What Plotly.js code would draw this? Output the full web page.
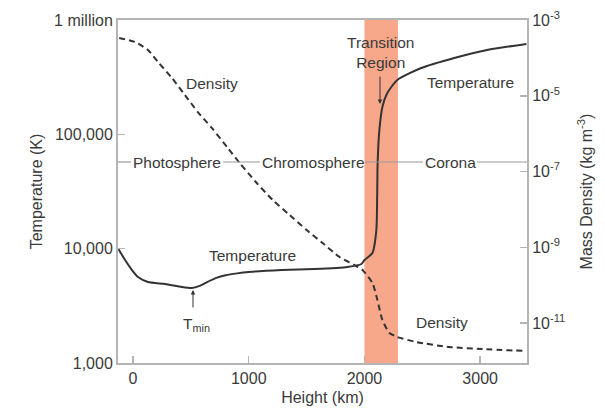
<!DOCTYPE html>
<html>
<head>
<meta charset="utf-8">
<script src="https://cdn.plot.ly/plotly-3.0.1.min.js"></script>
<style>html,body{margin:0;padding:0;background:#fff;}#chart{width:605px;height:412px;}</style>
</head>
<body>
<div id="chart"></div>
<script>
// Temperature profile (K) vs height (km)
const heightT = [-125, -69, -9, 43, 129, 276, 422, 509, 570, 640, 720, 800, 900, 1000, 1284, 1569, 1853, 1974, 2000, 2069, 2103, 2110, 2114, 2129, 2155, 2198, 2284, 2491, 2776, 3060, 3400];
const tempK = [9900, 7960, 6500, 5650, 5110, 4910, 4620, 4530, 4700, 5100, 5550, 5850, 6080, 6250, 6500, 6640, 6920, 7340, 7960, 9160, 14600, 28300, 56100, 109000, 173000, 230000, 299000, 380000, 465000, 547000, 617000];

// Mass density (kg m^-3) vs height (km)
const heightD = [-120, 17, 129, 216, 336, 448, 560, 681, 819, 922, 1069, 1207, 1353, 1500, 1638, 1784, 1914, 1983, 2069, 2112, 2155, 2216, 2284, 2448, 2733, 3017, 3400];
const densityKg = [3.35e-4, 2.62e-4, 1.61e-4, 7.78e-5, 2.94e-5, 1.05e-5, 3.72e-6, 1.41e-6, 4.17e-7, 1.67e-7, 4.97e-8, 1.77e-8, 7.10e-9, 2.85e-9, 1.29e-9, 5.53e-10, 3.40e-10, 2.51e-10, 1.14e-10, 4.05e-11, 1.20e-11, 5.45e-12, 4.27e-12, 3.15e-12, 2.32e-12, 2.06e-12, 1.82e-12];

// Transition region band (km)
const transitionBand = [2000, 2290];

// Tick labels
const xTicks = [0, 1000, 2000, 3000];
const tempTicks = [1000, 10000, 100000, 1000000];
const tempTickText = ['1,000', '10,000', '100,000', '1 million'];
const densTicks = [1e-11, 1e-9, 1e-7, 1e-5, 1e-3];
const densTickText = ['10<sup>-11</sup>', '10<sup>-9</sup>', '10<sup>-7</sup>', '10<sup>-5</sup>', '10<sup>-3</sup>'];

const FONT = 'Liberation Sans, Arial, Helvetica, sans-serif';
const TXT = '#3a3a3a';
const AX = '#b4b4b4';
const LS = 15.5;
const TS = 16;

const traces = [
  {x: heightT, y: tempK, type: 'scatter', mode: 'lines', yaxis: 'y',
   line: {color: '#333', width: 2, shape: 'spline', smoothing: 0.6}, hoverinfo: 'skip'},
  {x: heightD, y: densityKg, type: 'scatter', mode: 'lines', yaxis: 'y2',
   line: {color: '#333', width: 2, dash: '6px,4px', shape: 'spline', smoothing: 0.6}, hoverinfo: 'skip'}
];

const segY = 0.586;
const segs = [[0, 0.032], [0.257, 0.347], [0.604, 0.746], [0.878, 1]];
const shapes = [
  {type: 'rect', xref: 'x', yref: 'paper', x0: transitionBand[0], x1: transitionBand[1], y0: 0, y1: 1,
   fillcolor: '#F7A88B', line: {width: 0}, layer: 'below'}
];
segs.forEach(s => shapes.push({type: 'line', xref: 'paper', yref: 'paper', x0: s[0], x1: s[1], y0: segY, y1: segY,
  line: {color: '#9a9a9a', width: 1.2}}));

function lab(text, x, y, extra) {
  return Object.assign({text: text, xref: 'paper', yref: 'paper', x: x, y: y, showarrow: false,
    xanchor: 'center', yanchor: 'middle', font: {family: FONT, size: LS, color: TXT}}, extra || {});
}
const annotations = [
  lab('Density', 0.230, 0.816),
  lab('Temperature', 0.328, 0.312),
  lab('T<sub>min</sub>', 0.191, 0.113),
  lab('Transition<br>Region', 0.643, 0.905),
  lab('Temperature', 0.861, 0.819),
  lab('Photosphere', 0.144, segY),
  lab('Chromosphere', 0.477, segY),
  lab('Corona', 0.812, segY),
  lab('Density', 0.792, 0.117),
  {text: '', xref: 'paper', yref: 'paper', x: 0.1834, y: 0.213, ax: 0, ay: 19, showarrow: true,
   arrowhead: 2, arrowsize: 0.9, arrowwidth: 1, arrowcolor: '#333'},
  {text: '', xref: 'paper', yref: 'paper', x: 0.6406, y: 0.755, ax: 0, ay: -29, showarrow: true,
   arrowhead: 2, arrowsize: 0.9, arrowwidth: 1, arrowcolor: '#333'}
];

const layout = {
  width: 605, height: 412,
  margin: {l: 118, r: 78, t: 20, b: 49, pad: 0},
  paper_bgcolor: '#fff', plot_bgcolor: '#fff',
  showlegend: false,
  font: {family: FONT, size: TS, color: TXT},
  xaxis: {range: [-130, 3405], tickvals: xTicks, ticktext: xTicks.map(String),
    showline: true, mirror: true, linecolor: AX, linewidth: 2,
    ticks: 'inside', ticklen: 7, tickcolor: AX, tickwidth: 1.5, showgrid: false, zeroline: false,
    tickfont: {family: FONT, size: TS, color: TXT},
    title: {text: 'Height (km)', font: {family: FONT, size: TS, color: TXT}, standoff: 6}},
  yaxis: {type: 'log', range: [3, 6], tickvals: tempTicks, ticktext: tempTickText,
    showline: true, linecolor: AX, linewidth: 2, ticks: 'inside', ticklen: 7, tickcolor: AX, tickwidth: 1.5,
    showgrid: false, zeroline: false, tickfont: {family: FONT, size: TS, color: TXT},
    title: {text: 'Temperature (K)', font: {family: FONT, size: TS, color: TXT}, standoff: 8}},
  yaxis2: {type: 'log', range: [-12.056, -3], overlaying: 'y', side: 'right', tickvals: densTicks, ticktext: densTickText,
    showline: true, linecolor: AX, linewidth: 2, ticks: 'inside', ticklen: 7, tickcolor: AX, tickwidth: 1.5,
    showgrid: false, zeroline: false, tickfont: {family: FONT, size: TS, color: TXT},
    title: {text: 'Mass Density (kg m<sup>-3</sup>)', font: {family: FONT, size: TS, color: TXT}, standoff: 16}},
  shapes: shapes,
  annotations: annotations
};

Plotly.newPlot('chart', traces, layout, {staticPlot: true, displayModeBar: false});
</script>
</body>
</html>
